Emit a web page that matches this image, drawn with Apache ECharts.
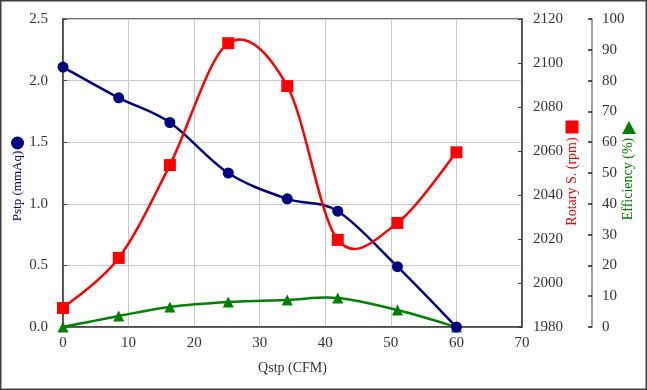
<!DOCTYPE html>
<html>
<head>
<meta charset="utf-8">
<script src="https://cdn.jsdelivr.net/npm/echarts@6/dist/echarts.min.js"></script>
<style>
html,body{margin:0;padding:0;background:#fff;}
#c{width:647px;height:390px;}
</style>
</head>
<body>
<div id="c"></div>
<script>
// Data
var qstp = [0, 8.5, 16.3, 25.2, 34.2, 41.9, 51.0, 60.0];
var pstp = [2.11, 1.86, 1.66, 1.25, 1.04, 0.94, 0.49, 0.0];
var rotary = [1988.6, 2011.4, 2053.6, 2109, 2089.5, 2019.6, 2027.3, 2059.4];
var efficiency = [0, 3.6, 6.5, 8.1, 8.8, 9.4, 5.5, 0];
var xTicks = [0, 10, 20, 30, 40, 50, 60, 70];

function pairs(xs, ys){ return xs.map(function(x,i){ return [x, ys[i]]; }); }

// Smoothed (Catmull-Rom) curve through the data, positioned by the chart's own axes
function curveRenderer(ys, color){
  return function(params, api){
    var i = params.dataIndex, n = qstp.length;
    if (i >= n - 1) return null;
    function P(j){ j = Math.max(0, Math.min(n - 1, j)); return api.coord([qstp[j], ys[j]]); }
    var p0 = P(i - 1), p1 = P(i), p2 = P(i + 1), p3 = P(i + 2);
    return {
      type:'bezierCurve',
      shape:{
        x1:p1[0], y1:p1[1], x2:p2[0], y2:p2[1],
        cpx1:p1[0] + (p2[0] - p0[0]) / 6, cpy1:p1[1] + (p2[1] - p0[1]) / 6,
        cpx2:p2[0] - (p3[0] - p1[0]) / 6, cpy2:p2[1] - (p3[1] - p1[1]) / 6
      },
      style:{stroke:color, lineWidth:2.5, fill:null, lineCap:'round'}
    };
  };
}

var FONT = 'Liberation Serif';
var chart = echarts.init(document.getElementById('c'), null, {renderer:'canvas'});
chart.setOption({
  animation:false,
  backgroundColor:'#fff',
  grid:{left:63, right:125, top:19, bottom:63, show:true, borderColor:'#404040', borderWidth:1.5, backgroundColor:'transparent'},
  xAxis:{
    type:'value', min:0, max:70, interval:10,
    name:'Qstp (CFM)', nameLocation:'middle', nameGap:34,
    nameTextStyle:{fontFamily:FONT, fontSize:14, color:'#333'},
    axisLine:{show:true, lineStyle:{color:'#404040', width:1.5}},
    axisTick:{show:false},
    axisLabel:{fontFamily:FONT, fontSize:15, color:'#333', margin:9},
    splitLine:{show:true, lineStyle:{color:'#c8c8c8', width:1}}
  },
  yAxis:[
    {
      type:'value', min:0, max:2.5, interval:0.5, position:'left',
      axisLine:{show:true, lineStyle:{color:'#404040', width:1.5}},
      axisTick:{show:true, inside:true, length:4, lineStyle:{color:'#404040'}},
      axisLabel:{fontFamily:FONT, fontSize:15, color:'#333', margin:15, formatter:function(v){return v.toFixed(1);}},
      splitLine:{show:true, lineStyle:{color:'#c8c8c8', width:1}}
    },
    {
      type:'value', min:1980, max:2120, interval:20, position:'right',
      axisLine:{show:true, lineStyle:{color:'#404040', width:1.5}},
      axisTick:{show:true, inside:true, length:4, lineStyle:{color:'#404040'}},
      axisLabel:{fontFamily:FONT, fontSize:15, color:'#333', margin:11, formatter:function(v){return String(v);}},
      splitLine:{show:false}
    },
    {
      type:'value', min:0, max:100, interval:10, position:'right', offset:70,
      axisLine:{show:true, lineStyle:{color:'#808080', width:1.5}},
      axisTick:{show:true, inside:true, length:4, lineStyle:{color:'#222', width:1.5}},
      axisLabel:{fontFamily:FONT, fontSize:15, color:'#333', margin:10},
      splitLine:{show:false}
    }
  ],
  series:[
    {type:'custom', yAxisIndex:2, data:pairs(qstp, efficiency), encode:{x:0, y:1}, renderItem:curveRenderer(efficiency, '#008000'), z:2, silent:true},
    {type:'custom', yAxisIndex:0, data:pairs(qstp, pstp), encode:{x:0, y:1}, renderItem:curveRenderer(pstp, '#000080'), z:3, silent:true},
    {type:'custom', yAxisIndex:1, data:pairs(qstp, rotary), encode:{x:0, y:1}, renderItem:curveRenderer(rotary, '#ff0000'), z:4, silent:true},
    {type:'scatter', yAxisIndex:2, data:pairs(qstp, efficiency), symbol:'triangle', symbolSize:11, itemStyle:{color:'#008000', opacity:1}, z:5},
    {type:'scatter', yAxisIndex:0, data:pairs(qstp, pstp), symbol:'circle', symbolSize:11, itemStyle:{color:'#000080', opacity:1}, z:6},
    {type:'scatter', yAxisIndex:1, data:pairs(qstp, rotary), symbol:'rect', symbolSize:12, itemStyle:{color:'#ff0000', opacity:1}, z:7}
  ],
  graphic:[
    {type:'rect', shape:{x:0.75, y:0.75, width:645.5, height:388.5}, style:{fill:'none', stroke:'#404040', lineWidth:1.5}, silent:true},
    {type:'circle', shape:{cx:17.5, cy:143, r:6.5}, style:{fill:'#000080'}},
    {type:'text', x:18, y:186, rotation:Math.PI/2, style:{text:'Pstp (mmAq)', fill:'#000080', font:'13px "Liberation Serif"', align:'center', verticalAlign:'middle'}},
    {type:'rect', shape:{x:565.5, y:120.5, width:13, height:13}, style:{fill:'#ff0000'}},
    {type:'text', x:572, y:181.5, rotation:Math.PI/2, style:{text:'Rotary S. (rpm)', fill:'#ff0000', font:'14px "Liberation Serif"', align:'center', verticalAlign:'middle'}},
    {type:'polygon', shape:{points:[[629,121],[636,134],[622,134]]}, style:{fill:'#008000'}},
    {type:'text', x:628.5, y:179, rotation:Math.PI/2, style:{text:'Efficiency (%)', fill:'#008000', font:'14px "Liberation Serif"', align:'center', verticalAlign:'middle'}}
  ]
});
</script>
</body>
</html>
